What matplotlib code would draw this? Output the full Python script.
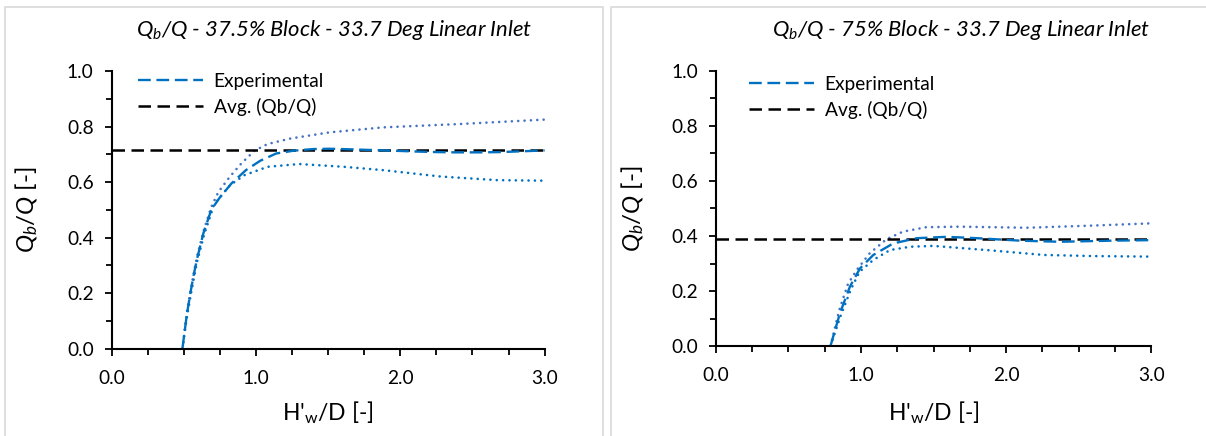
import matplotlib
matplotlib.use("Agg")
import matplotlib.pyplot as plt
from matplotlib.patches import Rectangle
from matplotlib.lines import Line2D
from matplotlib.ticker import MultipleLocator, FormatStrFormatter

plt.rcParams['font.family'] = ['Lato', 'DejaVu Sans']
plt.rcParams['mathtext.fontset'] = 'custom'
plt.rcParams['mathtext.rm'] = 'Lato'
plt.rcParams['mathtext.it'] = 'Lato:italic'

# ---- 37.5 % block ----
exp1_x = [0.49, 0.52, 0.545, 0.57, 0.59, 0.635, 0.69, 0.75, 0.83, 0.93, 1.03, 1.14,
          1.26, 1.40, 1.51, 1.65, 1.77, 1.95, 2.11, 2.25, 2.39, 2.55, 2.69, 2.85, 3.00]
exp1_y = [0.00, 0.12, 0.20, 0.27, 0.32, 0.415, 0.50, 0.545, 0.595, 0.643, 0.677, 0.703,
          0.713, 0.719, 0.720, 0.718, 0.716, 0.713, 0.710, 0.708, 0.707, 0.707, 0.708, 0.711, 0.714]
up1_x = [0.49, 0.52, 0.55, 0.59, 0.64, 0.69, 0.74, 0.82, 0.90, 0.99, 1.08, 1.24,
         1.51, 1.88, 2.41, 3.00]
up1_y = [0.00, 0.13, 0.22, 0.33, 0.43, 0.51, 0.565, 0.62, 0.668, 0.713, 0.737, 0.757,
         0.779, 0.797, 0.809, 0.825]
lo1_x = [0.49, 0.52, 0.55, 0.59, 0.64, 0.71, 0.82, 0.92, 1.08, 1.30, 1.61, 1.88,
         2.28, 2.67, 3.00]
lo1_y = [0.00, 0.11, 0.20, 0.31, 0.41, 0.52, 0.589, 0.625, 0.655, 0.665, 0.655, 0.643,
         0.620, 0.607, 0.605]
avg1 = 0.714

# ---- 75 % block ----
exp2_x = [0.79, 0.855, 0.924, 0.993, 1.085, 1.222, 1.384, 1.59, 1.80, 2.10, 2.37, 2.72, 3.00]
exp2_y = [0.00, 0.119, 0.216, 0.282, 0.331, 0.373, 0.392, 0.397, 0.392, 0.383, 0.379, 0.383, 0.385]
up2_x = [0.79, 0.85, 0.91, 0.97, 1.06, 1.175, 1.29, 1.45, 1.68, 2.14, 2.60, 3.00]
up2_y = [0.00, 0.13, 0.225, 0.276, 0.337, 0.388, 0.416, 0.432, 0.434, 0.430, 0.438, 0.446]
lo2_x = [0.79, 0.86, 0.93, 0.99, 1.085, 1.20, 1.34, 1.50, 1.91, 2.26, 2.60, 3.00]
lo2_y = [0.00, 0.11, 0.205, 0.27, 0.313, 0.349, 0.361, 0.364, 0.347, 0.331, 0.327, 0.325]
avg2 = 0.388

titles = [r"$Q_b$/Q - 37.5% Block - 33.7 Deg Linear Inlet",
          r"$Q_b$/Q - 75% Block - 33.7 Deg Linear Inlet"]
legend_labels = ["Experimental", "Avg. (Qb/Q)"]
xticks = [0.0, 1.0, 2.0, 3.0]

W, H = 1206, 436
fig = plt.figure(figsize=(W / 100, H / 100), dpi=100)

BLUE = "#0070C0"
BLUE2 = "#4472C4"
FS = 13.8
DOT = (0, (0.01, 2.4))
EXP_DASH = (0, (5.4, 2.4))
AVG_DASH = (0, (5.0, 2.6))

# chart frames
for x0, x1 in [(4.5, 602.5), (611, 1220)]:
    fig.patches.append(Rectangle((x0 / W, -0.1), (x1 - x0) / W, (H - 7) / H + 0.1,
                                 transform=fig.transFigure, fill=False,
                                 edgecolor="#D9D9D9", linewidth=1.2))

axes_px = [(111.7, 544.6, 71, 348.7), (715.8, 1151.3, 71, 346)]
title_px = [(334, 30), (961, 30)]
leg_px = [(138, 73), (749, 76)]
ylab_px = [40, 646]
data = [(exp1_x, exp1_y, up1_x, up1_y, lo1_x, lo1_y, avg1),
        (exp2_x, exp2_y, up2_x, up2_y, lo2_x, lo2_y, avg2)]

for i in range(2):
    l, r, t, b = axes_px[i]
    ax = fig.add_axes([l / W, 1 - b / H, (r - l) / W, (b - t) / H])
    ex, ey, ux, uy, lx, ly, avg = data[i]

    ax.plot(ux, uy, color=BLUE2, lw=1.9, linestyle=DOT, dash_capstyle='round')
    ax.plot(lx, ly, color=BLUE, lw=1.9, linestyle=DOT, dash_capstyle='round')
    ax.plot(xticks[::3], [avg, avg], color="black", lw=1.8, linestyle=AVG_DASH)
    ax.plot(ex, ey, color=BLUE, lw=1.7, linestyle=EXP_DASH)

    ax.set_xlim(0, 3)
    ax.set_ylim(0, 1)
    ax.spines['top'].set_visible(False)
    ax.spines['right'].set_visible(False)
    for s in ('left', 'bottom'):
        ax.spines[s].set_linewidth(1.5)
    ax.xaxis.set_major_locator(MultipleLocator(1.0))
    ax.xaxis.set_minor_locator(MultipleLocator(0.25))
    ax.yaxis.set_major_locator(MultipleLocator(0.2))
    ax.yaxis.set_minor_locator(MultipleLocator(0.1))
    ax.xaxis.set_major_formatter(FormatStrFormatter('%.1f'))
    ax.yaxis.set_major_formatter(FormatStrFormatter('%.1f'))
    ax.tick_params(which='both', direction='out', width=1.3, labelsize=FS)
    ax.tick_params(which='major', length=5, pad=8)
    ax.tick_params(which='minor', length=4)
    ax.tick_params(axis='x', which='major', pad=10)
    ax.set_facecolor('none')

    ax.set_xlabel(r"H'$_\mathregular{w}$/D [-]", fontsize=16.5)
    ax.xaxis.set_label_coords(0.5, (b - 399) / (b - t))
    ax.set_ylabel(r"$Q_b/Q$ [-]", fontsize=17.5)
    ax.yaxis.set_label_coords((ylab_px[i] - l) / (r - l), 0.5)

    fig.text(title_px[i][0] / W, 1 - title_px[i][1] / H, titles[i],
             ha='center', va='center', fontsize=15.8, style='italic')

    handles = [Line2D([], [], color=BLUE, lw=1.7, linestyle=EXP_DASH),
               Line2D([], [], color="black", lw=1.8, linestyle=AVG_DASH)]
    fig.legend(handles, legend_labels, loc='upper left',
               bbox_to_anchor=(leg_px[i][0] / W, 1 - leg_px[i][1] / H),
               frameon=False, fontsize=FS, handlelength=3.4, handletextpad=0.55,
               labelspacing=0.4, borderpad=0, borderaxespad=0)

fig.savefig("out.png", dpi=100)
